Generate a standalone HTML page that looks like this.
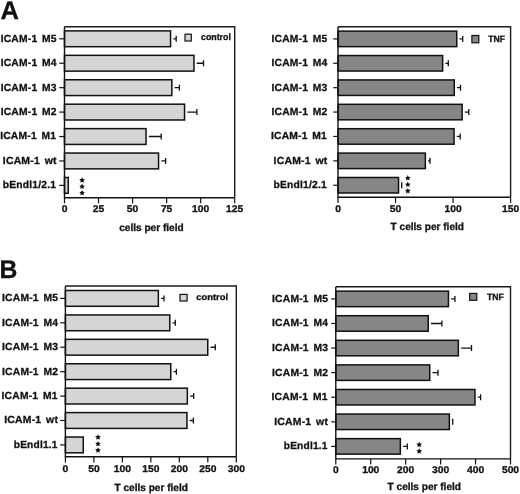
<!DOCTYPE html>
<html><head><meta charset="utf-8"><style>
html,body{margin:0;padding:0;background:#fff;width:520px;height:494px;overflow:hidden}
svg{display:block;will-change:transform}
text{font-family:"Liberation Sans", sans-serif;fill:#111;stroke:#111;stroke-width:0.3px;text-rendering:geometricPrecision}
</style></head><body>
<svg width="520" height="494" viewBox="0 0 520 494">
<rect width="520" height="494" fill="#fff"/>
<path d="M64.50,26.80H234.70V197.70" fill="none" stroke="#1a1a1a" stroke-width="1.4"/>
<path d="M173.30,38.80H176.20M176.20,35.80V41.80" stroke="#111" stroke-width="1.3" fill="none"/>
<rect x="64.50" y="30.90" width="106.05" height="15.80" fill="#d5d5d5" stroke="#111" stroke-width="1.5"/>
<path d="M59.20,38.80H64.50" stroke="#111" stroke-width="1.2"/>
<text x="56.70" y="41.70" font-size="10.3" font-weight="bold" text-anchor="end" letter-spacing="0.2" word-spacing="1.6">ICAM-1 M5</text>
<path d="M196.70,63.23H203.50M203.50,60.23V66.23" stroke="#111" stroke-width="1.3" fill="none"/>
<rect x="64.50" y="55.33" width="129.45" height="15.80" fill="#d5d5d5" stroke="#111" stroke-width="1.5"/>
<path d="M59.20,63.23H64.50" stroke="#111" stroke-width="1.2"/>
<text x="56.70" y="66.13" font-size="10.3" font-weight="bold" text-anchor="end" letter-spacing="0.2" word-spacing="1.6">ICAM-1 M4</text>
<path d="M174.60,87.66H179.40M179.40,84.66V90.66" stroke="#111" stroke-width="1.3" fill="none"/>
<rect x="64.50" y="79.76" width="107.35" height="15.80" fill="#d5d5d5" stroke="#111" stroke-width="1.5"/>
<path d="M59.20,87.66H64.50" stroke="#111" stroke-width="1.2"/>
<text x="56.70" y="90.56" font-size="10.3" font-weight="bold" text-anchor="end" letter-spacing="0.2" word-spacing="1.6">ICAM-1 M3</text>
<path d="M187.30,112.09H196.90M196.90,109.09V115.09" stroke="#111" stroke-width="1.3" fill="none"/>
<rect x="64.50" y="104.19" width="120.05" height="15.80" fill="#d5d5d5" stroke="#111" stroke-width="1.5"/>
<path d="M59.20,112.09H64.50" stroke="#111" stroke-width="1.2"/>
<text x="56.70" y="114.99" font-size="10.3" font-weight="bold" text-anchor="end" letter-spacing="0.2" word-spacing="1.6">ICAM-1 M2</text>
<path d="M148.80,136.52H161.20M161.20,133.52V139.52" stroke="#111" stroke-width="1.3" fill="none"/>
<rect x="64.50" y="128.62" width="81.55" height="15.80" fill="#d5d5d5" stroke="#111" stroke-width="1.5"/>
<path d="M59.20,136.52H64.50" stroke="#111" stroke-width="1.2"/>
<text x="56.20" y="139.42" font-size="10.3" font-weight="bold" text-anchor="end" letter-spacing="0.2" word-spacing="1.6">ICAM-1 M1</text>
<path d="M161.30,160.95H165.60M165.60,157.95V163.95" stroke="#111" stroke-width="1.3" fill="none"/>
<rect x="64.50" y="153.05" width="94.05" height="15.80" fill="#d5d5d5" stroke="#111" stroke-width="1.5"/>
<path d="M59.20,160.95H64.50" stroke="#111" stroke-width="1.2"/>
<text transform="translate(56.70,163.85) scale(1.014,1)" x="0" y="0" font-size="10.3" font-weight="bold" text-anchor="end" letter-spacing="0.2" word-spacing="1.6">ICAM-1 wt</text>
<rect x="64.50" y="177.48" width="3.75" height="15.80" fill="#d5d5d5" stroke="#111" stroke-width="1.5"/>
<path d="M59.20,185.38H64.50" stroke="#111" stroke-width="1.2"/>
<text x="56.20" y="188.28" font-size="10.3" font-weight="bold" text-anchor="end" letter-spacing="0.2" word-spacing="1.6">bEndl1/2.1</text>
<path d="M64.50,26.80V197.70H234.70" fill="none" stroke="#111" stroke-width="1.4"/>
<path d="M64.50,197.70V203.30" stroke="#111" stroke-width="1.2"/>
<text transform="translate(64.50,212.20) scale(1.05,1)" x="0" y="0" font-size="9.8" font-weight="bold" text-anchor="middle">0</text>
<path d="M98.54,197.70V203.30" stroke="#111" stroke-width="1.2"/>
<text transform="translate(98.54,212.20) scale(1.05,1)" x="0" y="0" font-size="9.8" font-weight="bold" text-anchor="middle">25</text>
<path d="M132.58,197.70V203.30" stroke="#111" stroke-width="1.2"/>
<text transform="translate(132.58,212.20) scale(1.05,1)" x="0" y="0" font-size="9.8" font-weight="bold" text-anchor="middle">50</text>
<path d="M166.62,197.70V203.30" stroke="#111" stroke-width="1.2"/>
<text transform="translate(166.62,212.20) scale(1.05,1)" x="0" y="0" font-size="9.8" font-weight="bold" text-anchor="middle">75</text>
<path d="M200.66,197.70V203.30" stroke="#111" stroke-width="1.2"/>
<text transform="translate(200.66,212.20) scale(1.05,1)" x="0" y="0" font-size="9.8" font-weight="bold" text-anchor="middle">100</text>
<path d="M234.70,197.70V203.30" stroke="#111" stroke-width="1.2"/>
<text transform="translate(234.70,212.20) scale(1.05,1)" x="0" y="0" font-size="9.8" font-weight="bold" text-anchor="middle">125</text>
<text transform="translate(151.40,230.70) scale(0.97,1)" x="0" y="0" font-size="10.4" font-weight="bold" text-anchor="middle">cells per field</text>
<rect x="185.00" y="34.20" width="6.30" height="6.80" fill="#d5d5d5" stroke="#111" stroke-width="1.2"/>
<text transform="translate(201.00,40.10) scale(0.96,1)" x="0" y="0" font-size="9.2" font-weight="bold" text-anchor="start">control</text>
<polygon points="82.10,177.30 82.98,179.09 84.95,179.37 83.53,180.76 83.86,182.73 82.10,181.80 80.34,182.73 80.67,180.76 79.25,179.37 81.22,179.09" fill="#111"/>
<polygon points="82.10,183.60 82.98,185.39 84.95,185.67 83.53,187.06 83.86,189.03 82.10,188.10 80.34,189.03 80.67,187.06 79.25,185.67 81.22,185.39" fill="#111"/>
<polygon points="82.10,189.90 82.98,191.69 84.95,191.97 83.53,193.36 83.86,195.33 82.10,194.40 80.34,195.33 80.67,193.36 79.25,191.97 81.22,191.69" fill="#111"/>
<path d="M338.00,26.80H510.60V197.30" fill="none" stroke="#1a1a1a" stroke-width="1.4"/>
<path d="M459.50,38.90H462.70M462.70,35.90V41.90" stroke="#111" stroke-width="1.3" fill="none"/>
<rect x="338.00" y="31.15" width="118.75" height="15.50" fill="#868686" stroke="#111" stroke-width="1.5"/>
<path d="M333.20,38.90H338.00" stroke="#111" stroke-width="1.2"/>
<text x="327.50" y="41.80" font-size="10.3" font-weight="bold" text-anchor="end" letter-spacing="0.2" word-spacing="1.6">ICAM-1 M5</text>
<path d="M445.40,63.29H448.30M448.30,60.29V66.29" stroke="#111" stroke-width="1.3" fill="none"/>
<rect x="338.00" y="55.54" width="104.65" height="15.50" fill="#868686" stroke="#111" stroke-width="1.5"/>
<path d="M333.20,63.29H338.00" stroke="#111" stroke-width="1.2"/>
<text x="327.50" y="66.19" font-size="10.3" font-weight="bold" text-anchor="end" letter-spacing="0.2" word-spacing="1.6">ICAM-1 M4</text>
<path d="M457.00,87.68H460.50M460.50,84.68V90.68" stroke="#111" stroke-width="1.3" fill="none"/>
<rect x="338.00" y="79.93" width="116.25" height="15.50" fill="#868686" stroke="#111" stroke-width="1.5"/>
<path d="M333.20,87.68H338.00" stroke="#111" stroke-width="1.2"/>
<text x="327.50" y="90.58" font-size="10.3" font-weight="bold" text-anchor="end" letter-spacing="0.2" word-spacing="1.6">ICAM-1 M3</text>
<path d="M464.90,112.07H468.80M468.80,109.07V115.07" stroke="#111" stroke-width="1.3" fill="none"/>
<rect x="338.00" y="104.32" width="124.15" height="15.50" fill="#868686" stroke="#111" stroke-width="1.5"/>
<path d="M333.20,112.07H338.00" stroke="#111" stroke-width="1.2"/>
<text x="327.50" y="114.97" font-size="10.3" font-weight="bold" text-anchor="end" letter-spacing="0.2" word-spacing="1.6">ICAM-1 M2</text>
<path d="M456.80,136.46H460.20M460.20,133.46V139.46" stroke="#111" stroke-width="1.3" fill="none"/>
<rect x="338.00" y="128.71" width="116.05" height="15.50" fill="#868686" stroke="#111" stroke-width="1.5"/>
<path d="M333.20,136.46H338.00" stroke="#111" stroke-width="1.2"/>
<text x="327.00" y="139.36" font-size="10.3" font-weight="bold" text-anchor="end" letter-spacing="0.2" word-spacing="1.6">ICAM-1 M1</text>
<path d="M428.10,160.85H430.00M430.00,157.85V163.85" stroke="#111" stroke-width="1.3" fill="none"/>
<rect x="338.00" y="153.10" width="87.35" height="15.50" fill="#868686" stroke="#111" stroke-width="1.5"/>
<path d="M333.20,160.85H338.00" stroke="#111" stroke-width="1.2"/>
<text transform="translate(327.50,163.75) scale(1.014,1)" x="0" y="0" font-size="10.3" font-weight="bold" text-anchor="end" letter-spacing="0.2" word-spacing="1.6">ICAM-1 wt</text>
<path d="M401.70,182.24V188.24" stroke="#111" stroke-width="1.3" fill="none"/>
<rect x="338.00" y="177.49" width="60.55" height="15.50" fill="#868686" stroke="#111" stroke-width="1.5"/>
<path d="M333.20,185.24H338.00" stroke="#111" stroke-width="1.2"/>
<text x="327.00" y="188.14" font-size="10.3" font-weight="bold" text-anchor="end" letter-spacing="0.2" word-spacing="1.6">bEndl1/2.1</text>
<path d="M338.00,26.80V197.30H510.60" fill="none" stroke="#111" stroke-width="1.4"/>
<path d="M338.00,197.30V202.90" stroke="#111" stroke-width="1.2"/>
<text transform="translate(338.00,211.70) scale(1.05,1)" x="0" y="0" font-size="9.8" font-weight="bold" text-anchor="middle">0</text>
<path d="M395.53,197.30V202.90" stroke="#111" stroke-width="1.2"/>
<text transform="translate(395.53,211.70) scale(1.05,1)" x="0" y="0" font-size="9.8" font-weight="bold" text-anchor="middle">50</text>
<path d="M453.07,197.30V202.90" stroke="#111" stroke-width="1.2"/>
<text transform="translate(453.07,211.70) scale(1.05,1)" x="0" y="0" font-size="9.8" font-weight="bold" text-anchor="middle">100</text>
<path d="M510.60,197.30V202.90" stroke="#111" stroke-width="1.2"/>
<text transform="translate(510.60,211.70) scale(1.05,1)" x="0" y="0" font-size="9.8" font-weight="bold" text-anchor="middle">150</text>
<text transform="translate(427.30,229.50) scale(0.97,1)" x="0" y="0" font-size="10.4" font-weight="bold" text-anchor="middle">T cells per field</text>
<rect x="471.90" y="35.50" width="6.90" height="7.30" fill="#868686" stroke="#111" stroke-width="1.2"/>
<text transform="translate(488.20,41.80) scale(0.94,1)" x="0" y="0" font-size="9.2" font-weight="bold" text-anchor="start">TNF</text>
<polygon points="407.80,175.10 408.68,176.89 410.65,177.17 409.23,178.56 409.56,180.53 407.80,179.60 406.04,180.53 406.37,178.56 404.95,177.17 406.92,176.89" fill="#111"/>
<polygon points="407.80,181.60 408.68,183.39 410.65,183.67 409.23,185.06 409.56,187.03 407.80,186.10 406.04,187.03 406.37,185.06 404.95,183.67 406.92,183.39" fill="#111"/>
<polygon points="407.80,188.00 408.68,189.79 410.65,190.07 409.23,191.46 409.56,193.43 407.80,192.50 406.04,193.43 406.37,191.46 404.95,190.07 406.92,189.79" fill="#111"/>
<path d="M65.40,286.00H236.30V456.80" fill="none" stroke="#1a1a1a" stroke-width="1.4"/>
<path d="M161.10,298.40H164.00M164.00,295.40V301.40" stroke="#111" stroke-width="1.3" fill="none"/>
<rect x="65.40" y="290.50" width="92.95" height="15.80" fill="#d5d5d5" stroke="#111" stroke-width="1.5"/>
<path d="M60.20,298.40H65.40" stroke="#111" stroke-width="1.2"/>
<text x="58.10" y="301.30" font-size="10.3" font-weight="bold" text-anchor="end" letter-spacing="0.2" word-spacing="1.6">ICAM-1 M5</text>
<path d="M172.50,322.82H175.30M175.30,319.82V325.82" stroke="#111" stroke-width="1.3" fill="none"/>
<rect x="65.40" y="314.92" width="104.35" height="15.80" fill="#d5d5d5" stroke="#111" stroke-width="1.5"/>
<path d="M60.20,322.82H65.40" stroke="#111" stroke-width="1.2"/>
<text x="58.10" y="325.72" font-size="10.3" font-weight="bold" text-anchor="end" letter-spacing="0.2" word-spacing="1.6">ICAM-1 M4</text>
<path d="M210.50,347.24H215.30M215.30,344.24V350.24" stroke="#111" stroke-width="1.3" fill="none"/>
<rect x="65.40" y="339.34" width="142.35" height="15.80" fill="#d5d5d5" stroke="#111" stroke-width="1.5"/>
<path d="M60.20,347.24H65.40" stroke="#111" stroke-width="1.2"/>
<text x="58.10" y="350.14" font-size="10.3" font-weight="bold" text-anchor="end" letter-spacing="0.2" word-spacing="1.6">ICAM-1 M3</text>
<path d="M173.50,371.66H176.40M176.40,368.66V374.66" stroke="#111" stroke-width="1.3" fill="none"/>
<rect x="65.40" y="363.76" width="105.35" height="15.80" fill="#d5d5d5" stroke="#111" stroke-width="1.5"/>
<path d="M60.20,371.66H65.40" stroke="#111" stroke-width="1.2"/>
<text x="58.10" y="374.56" font-size="10.3" font-weight="bold" text-anchor="end" letter-spacing="0.2" word-spacing="1.6">ICAM-1 M2</text>
<path d="M190.10,396.08H193.70M193.70,393.08V399.08" stroke="#111" stroke-width="1.3" fill="none"/>
<rect x="65.40" y="388.18" width="121.95" height="15.80" fill="#d5d5d5" stroke="#111" stroke-width="1.5"/>
<path d="M60.20,396.08H65.40" stroke="#111" stroke-width="1.2"/>
<text x="57.60" y="398.98" font-size="10.3" font-weight="bold" text-anchor="end" letter-spacing="0.2" word-spacing="1.6">ICAM-1 M1</text>
<path d="M189.70,420.50H193.40M193.40,417.50V423.50" stroke="#111" stroke-width="1.3" fill="none"/>
<rect x="65.40" y="412.60" width="121.55" height="15.80" fill="#d5d5d5" stroke="#111" stroke-width="1.5"/>
<path d="M60.20,420.50H65.40" stroke="#111" stroke-width="1.2"/>
<text transform="translate(58.10,423.40) scale(1.014,1)" x="0" y="0" font-size="10.3" font-weight="bold" text-anchor="end" letter-spacing="0.2" word-spacing="1.6">ICAM-1 wt</text>
<rect x="65.40" y="437.02" width="17.85" height="15.80" fill="#d5d5d5" stroke="#111" stroke-width="1.5"/>
<path d="M60.20,444.92H65.40" stroke="#111" stroke-width="1.2"/>
<text transform="translate(57.60,447.82) scale(0.985,1)" x="0" y="0" font-size="10.3" font-weight="bold" text-anchor="end" letter-spacing="0.2" word-spacing="1.6">bEndl1.1</text>
<path d="M65.40,286.00V456.80H236.30" fill="none" stroke="#111" stroke-width="1.4"/>
<path d="M65.40,456.80V462.40" stroke="#111" stroke-width="1.2"/>
<text transform="translate(65.40,471.70) scale(1.05,1)" x="0" y="0" font-size="9.8" font-weight="bold" text-anchor="middle">0</text>
<path d="M93.88,456.80V462.40" stroke="#111" stroke-width="1.2"/>
<text transform="translate(93.88,471.70) scale(1.05,1)" x="0" y="0" font-size="9.8" font-weight="bold" text-anchor="middle">50</text>
<path d="M122.37,456.80V462.40" stroke="#111" stroke-width="1.2"/>
<text transform="translate(122.37,471.70) scale(1.05,1)" x="0" y="0" font-size="9.8" font-weight="bold" text-anchor="middle">100</text>
<path d="M150.85,456.80V462.40" stroke="#111" stroke-width="1.2"/>
<text transform="translate(150.85,471.70) scale(1.05,1)" x="0" y="0" font-size="9.8" font-weight="bold" text-anchor="middle">150</text>
<path d="M179.33,456.80V462.40" stroke="#111" stroke-width="1.2"/>
<text transform="translate(179.33,471.70) scale(1.05,1)" x="0" y="0" font-size="9.8" font-weight="bold" text-anchor="middle">200</text>
<path d="M207.82,456.80V462.40" stroke="#111" stroke-width="1.2"/>
<text transform="translate(207.82,471.70) scale(1.05,1)" x="0" y="0" font-size="9.8" font-weight="bold" text-anchor="middle">250</text>
<path d="M236.30,456.80V462.40" stroke="#111" stroke-width="1.2"/>
<text transform="translate(236.30,471.70) scale(1.05,1)" x="0" y="0" font-size="9.8" font-weight="bold" text-anchor="middle">300</text>
<text transform="translate(151.20,490.50) scale(0.97,1)" x="0" y="0" font-size="10.4" font-weight="bold" text-anchor="middle">T cells per field</text>
<rect x="180.00" y="294.40" width="7.10" height="6.60" fill="#d5d5d5" stroke="#111" stroke-width="1.2"/>
<text transform="translate(196.20,300.00) scale(1.06,1)" x="0" y="0" font-size="8.9" font-weight="bold" text-anchor="start">control</text>
<polygon points="98.00,434.30 98.88,436.09 100.85,436.37 99.43,437.76 99.76,439.73 98.00,438.80 96.24,439.73 96.57,437.76 95.15,436.37 97.12,436.09" fill="#111"/>
<polygon points="98.00,440.90 98.88,442.69 100.85,442.97 99.43,444.36 99.76,446.33 98.00,445.40 96.24,446.33 96.57,444.36 95.15,442.97 97.12,442.69" fill="#111"/>
<polygon points="98.00,447.30 98.88,449.09 100.85,449.37 99.43,450.76 99.76,452.73 98.00,451.80 96.24,452.73 96.57,450.76 95.15,449.37 97.12,449.09" fill="#111"/>
<path d="M335.80,286.70H510.50V458.90" fill="none" stroke="#1a1a1a" stroke-width="1.4"/>
<path d="M451.20,298.90H454.90M454.90,295.90V301.90" stroke="#111" stroke-width="1.3" fill="none"/>
<rect x="335.80" y="291.15" width="112.65" height="15.50" fill="#868686" stroke="#111" stroke-width="1.5"/>
<path d="M331.20,298.90H335.80" stroke="#111" stroke-width="1.2"/>
<text x="328.10" y="301.80" font-size="10.3" font-weight="bold" text-anchor="end" letter-spacing="0.2" word-spacing="1.6">ICAM-1 M5</text>
<path d="M431.00,323.48H441.90M441.90,320.48V326.48" stroke="#111" stroke-width="1.3" fill="none"/>
<rect x="335.80" y="315.73" width="92.45" height="15.50" fill="#868686" stroke="#111" stroke-width="1.5"/>
<path d="M331.20,323.48H335.80" stroke="#111" stroke-width="1.2"/>
<text x="328.10" y="326.38" font-size="10.3" font-weight="bold" text-anchor="end" letter-spacing="0.2" word-spacing="1.6">ICAM-1 M4</text>
<path d="M461.10,348.06H471.50M471.50,345.06V351.06" stroke="#111" stroke-width="1.3" fill="none"/>
<rect x="335.80" y="340.31" width="122.55" height="15.50" fill="#868686" stroke="#111" stroke-width="1.5"/>
<path d="M331.20,348.06H335.80" stroke="#111" stroke-width="1.2"/>
<text x="328.10" y="350.96" font-size="10.3" font-weight="bold" text-anchor="end" letter-spacing="0.2" word-spacing="1.6">ICAM-1 M3</text>
<path d="M432.50,372.64H438.00M438.00,369.64V375.64" stroke="#111" stroke-width="1.3" fill="none"/>
<rect x="335.80" y="364.89" width="93.95" height="15.50" fill="#868686" stroke="#111" stroke-width="1.5"/>
<path d="M331.20,372.64H335.80" stroke="#111" stroke-width="1.2"/>
<text x="328.10" y="375.54" font-size="10.3" font-weight="bold" text-anchor="end" letter-spacing="0.2" word-spacing="1.6">ICAM-1 M2</text>
<path d="M477.70,397.22H480.60M480.60,394.22V400.22" stroke="#111" stroke-width="1.3" fill="none"/>
<rect x="335.80" y="389.47" width="139.15" height="15.50" fill="#868686" stroke="#111" stroke-width="1.5"/>
<path d="M331.20,397.22H335.80" stroke="#111" stroke-width="1.2"/>
<text x="327.60" y="400.12" font-size="10.3" font-weight="bold" text-anchor="end" letter-spacing="0.2" word-spacing="1.6">ICAM-1 M1</text>
<path d="M452.70,418.80V424.80" stroke="#111" stroke-width="1.3" fill="none"/>
<rect x="335.80" y="414.05" width="113.55" height="15.50" fill="#868686" stroke="#111" stroke-width="1.5"/>
<path d="M331.20,421.80H335.80" stroke="#111" stroke-width="1.2"/>
<text transform="translate(328.10,424.70) scale(1.014,1)" x="0" y="0" font-size="10.3" font-weight="bold" text-anchor="end" letter-spacing="0.2" word-spacing="1.6">ICAM-1 wt</text>
<path d="M403.10,446.38H407.30M407.30,443.38V449.38" stroke="#111" stroke-width="1.3" fill="none"/>
<rect x="335.80" y="438.63" width="64.55" height="15.50" fill="#868686" stroke="#111" stroke-width="1.5"/>
<path d="M331.20,446.38H335.80" stroke="#111" stroke-width="1.2"/>
<text transform="translate(327.60,449.28) scale(0.985,1)" x="0" y="0" font-size="10.3" font-weight="bold" text-anchor="end" letter-spacing="0.2" word-spacing="1.6">bEndl1.1</text>
<path d="M335.80,286.70V458.90H510.50" fill="none" stroke="#111" stroke-width="1.4"/>
<path d="M335.80,458.90V464.50" stroke="#111" stroke-width="1.2"/>
<text transform="translate(335.80,473.40) scale(1.05,1)" x="0" y="0" font-size="9.8" font-weight="bold" text-anchor="middle">0</text>
<path d="M370.74,458.90V464.50" stroke="#111" stroke-width="1.2"/>
<text transform="translate(370.74,473.40) scale(1.05,1)" x="0" y="0" font-size="9.8" font-weight="bold" text-anchor="middle">100</text>
<path d="M405.68,458.90V464.50" stroke="#111" stroke-width="1.2"/>
<text transform="translate(405.68,473.40) scale(1.05,1)" x="0" y="0" font-size="9.8" font-weight="bold" text-anchor="middle">200</text>
<path d="M440.62,458.90V464.50" stroke="#111" stroke-width="1.2"/>
<text transform="translate(440.62,473.40) scale(1.05,1)" x="0" y="0" font-size="9.8" font-weight="bold" text-anchor="middle">300</text>
<path d="M475.56,458.90V464.50" stroke="#111" stroke-width="1.2"/>
<text transform="translate(475.56,473.40) scale(1.05,1)" x="0" y="0" font-size="9.8" font-weight="bold" text-anchor="middle">400</text>
<path d="M510.50,458.90V464.50" stroke="#111" stroke-width="1.2"/>
<text transform="translate(510.50,473.40) scale(1.05,1)" x="0" y="0" font-size="9.8" font-weight="bold" text-anchor="middle">500</text>
<text transform="translate(424.30,490.40) scale(0.97,1)" x="0" y="0" font-size="10.4" font-weight="bold" text-anchor="middle">T cells per field</text>
<rect x="469.70" y="293.40" width="7.10" height="6.90" fill="#868686" stroke="#111" stroke-width="1.2"/>
<text transform="translate(487.00,299.90) scale(0.94,1)" x="0" y="0" font-size="9.2" font-weight="bold" text-anchor="start">TNF</text>
<polygon points="419.20,441.70 420.08,443.49 422.05,443.77 420.63,445.16 420.96,447.13 419.20,446.20 417.44,447.13 417.77,445.16 416.35,443.77 418.32,443.49" fill="#111"/>
<polygon points="419.20,448.20 420.08,449.99 422.05,450.27 420.63,451.66 420.96,453.63 419.20,452.70 417.44,453.63 417.77,451.66 416.35,450.27 418.32,449.99" fill="#111"/>
<text x="0.60" y="18.80" font-size="25.5" font-weight="bold" text-anchor="start" stroke-width="0.5">A</text>
<text transform="translate(-0.50,277.70) scale(0.97,1)" x="0" y="0" font-size="25.5" font-weight="bold" text-anchor="start" stroke-width="0.5">B</text>
</svg>
</body></html>
